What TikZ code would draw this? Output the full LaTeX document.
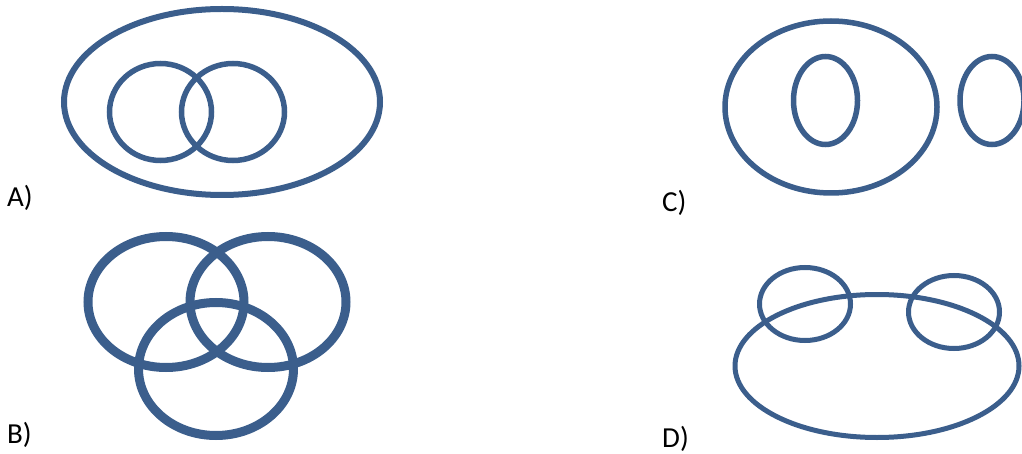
\documentclass[tikz,border=0pt]{standalone}
\usepackage{fontspec}
\setmainfont{Carlito}
\definecolor{vblue}{RGB}{59,94,140}
\begin{document}
\begin{tikzpicture}[x=1pt,y=-1pt,
  ring/.style={draw=vblue,line width=5.5pt},
  thickring/.style={draw=vblue,line width=9pt},
  lbl/.style={anchor=base west,inner sep=0pt,font=\fontsize{29}{32}\selectfont}]
\useasboundingbox (0,0) rectangle (1022,454);
\clip (0,0) rectangle (1022,454);
% A
\draw[ring,line width=6pt] (222,102) ellipse [x radius=158,y radius=93];
\draw[ring] (160.5,112) ellipse [x radius=51,y radius=48.5];
\draw[ring] (233,112) ellipse [x radius=51.5,y radius=48.5];
\node[lbl] (la) at (7,207) {A)};
% C
\draw[ring] (831,107) ellipse [x radius=106,y radius=86];
\draw[ring] (825.5,100.5) ellipse [x radius=32,y radius=44];
\draw[ring] (992,100.5) ellipse [x radius=32,y radius=44];
\node[lbl] (lc) at (662,212) {C)};
% B
\draw[thickring] (166,302) ellipse [x radius=78,y radius=65.5];
\draw[thickring] (268,302) ellipse [x radius=78,y radius=65.5];
\draw[thickring] (216,369) ellipse [x radius=77.5,y radius=66.5];
\node[lbl] (lb) at (7,443) {B)};
% D
\draw[ring,line width=5pt] (877,366) ellipse [x radius=142,y radius=71.5];
\draw[ring,line width=5pt] (805,304) ellipse [x radius=45.5,y radius=36.5];
\draw[ring,line width=5pt] (954,312) ellipse [x radius=45.5,y radius=36.5];
\node[lbl] (ld) at (662,447) {D)};
\end{tikzpicture}
\end{document}
